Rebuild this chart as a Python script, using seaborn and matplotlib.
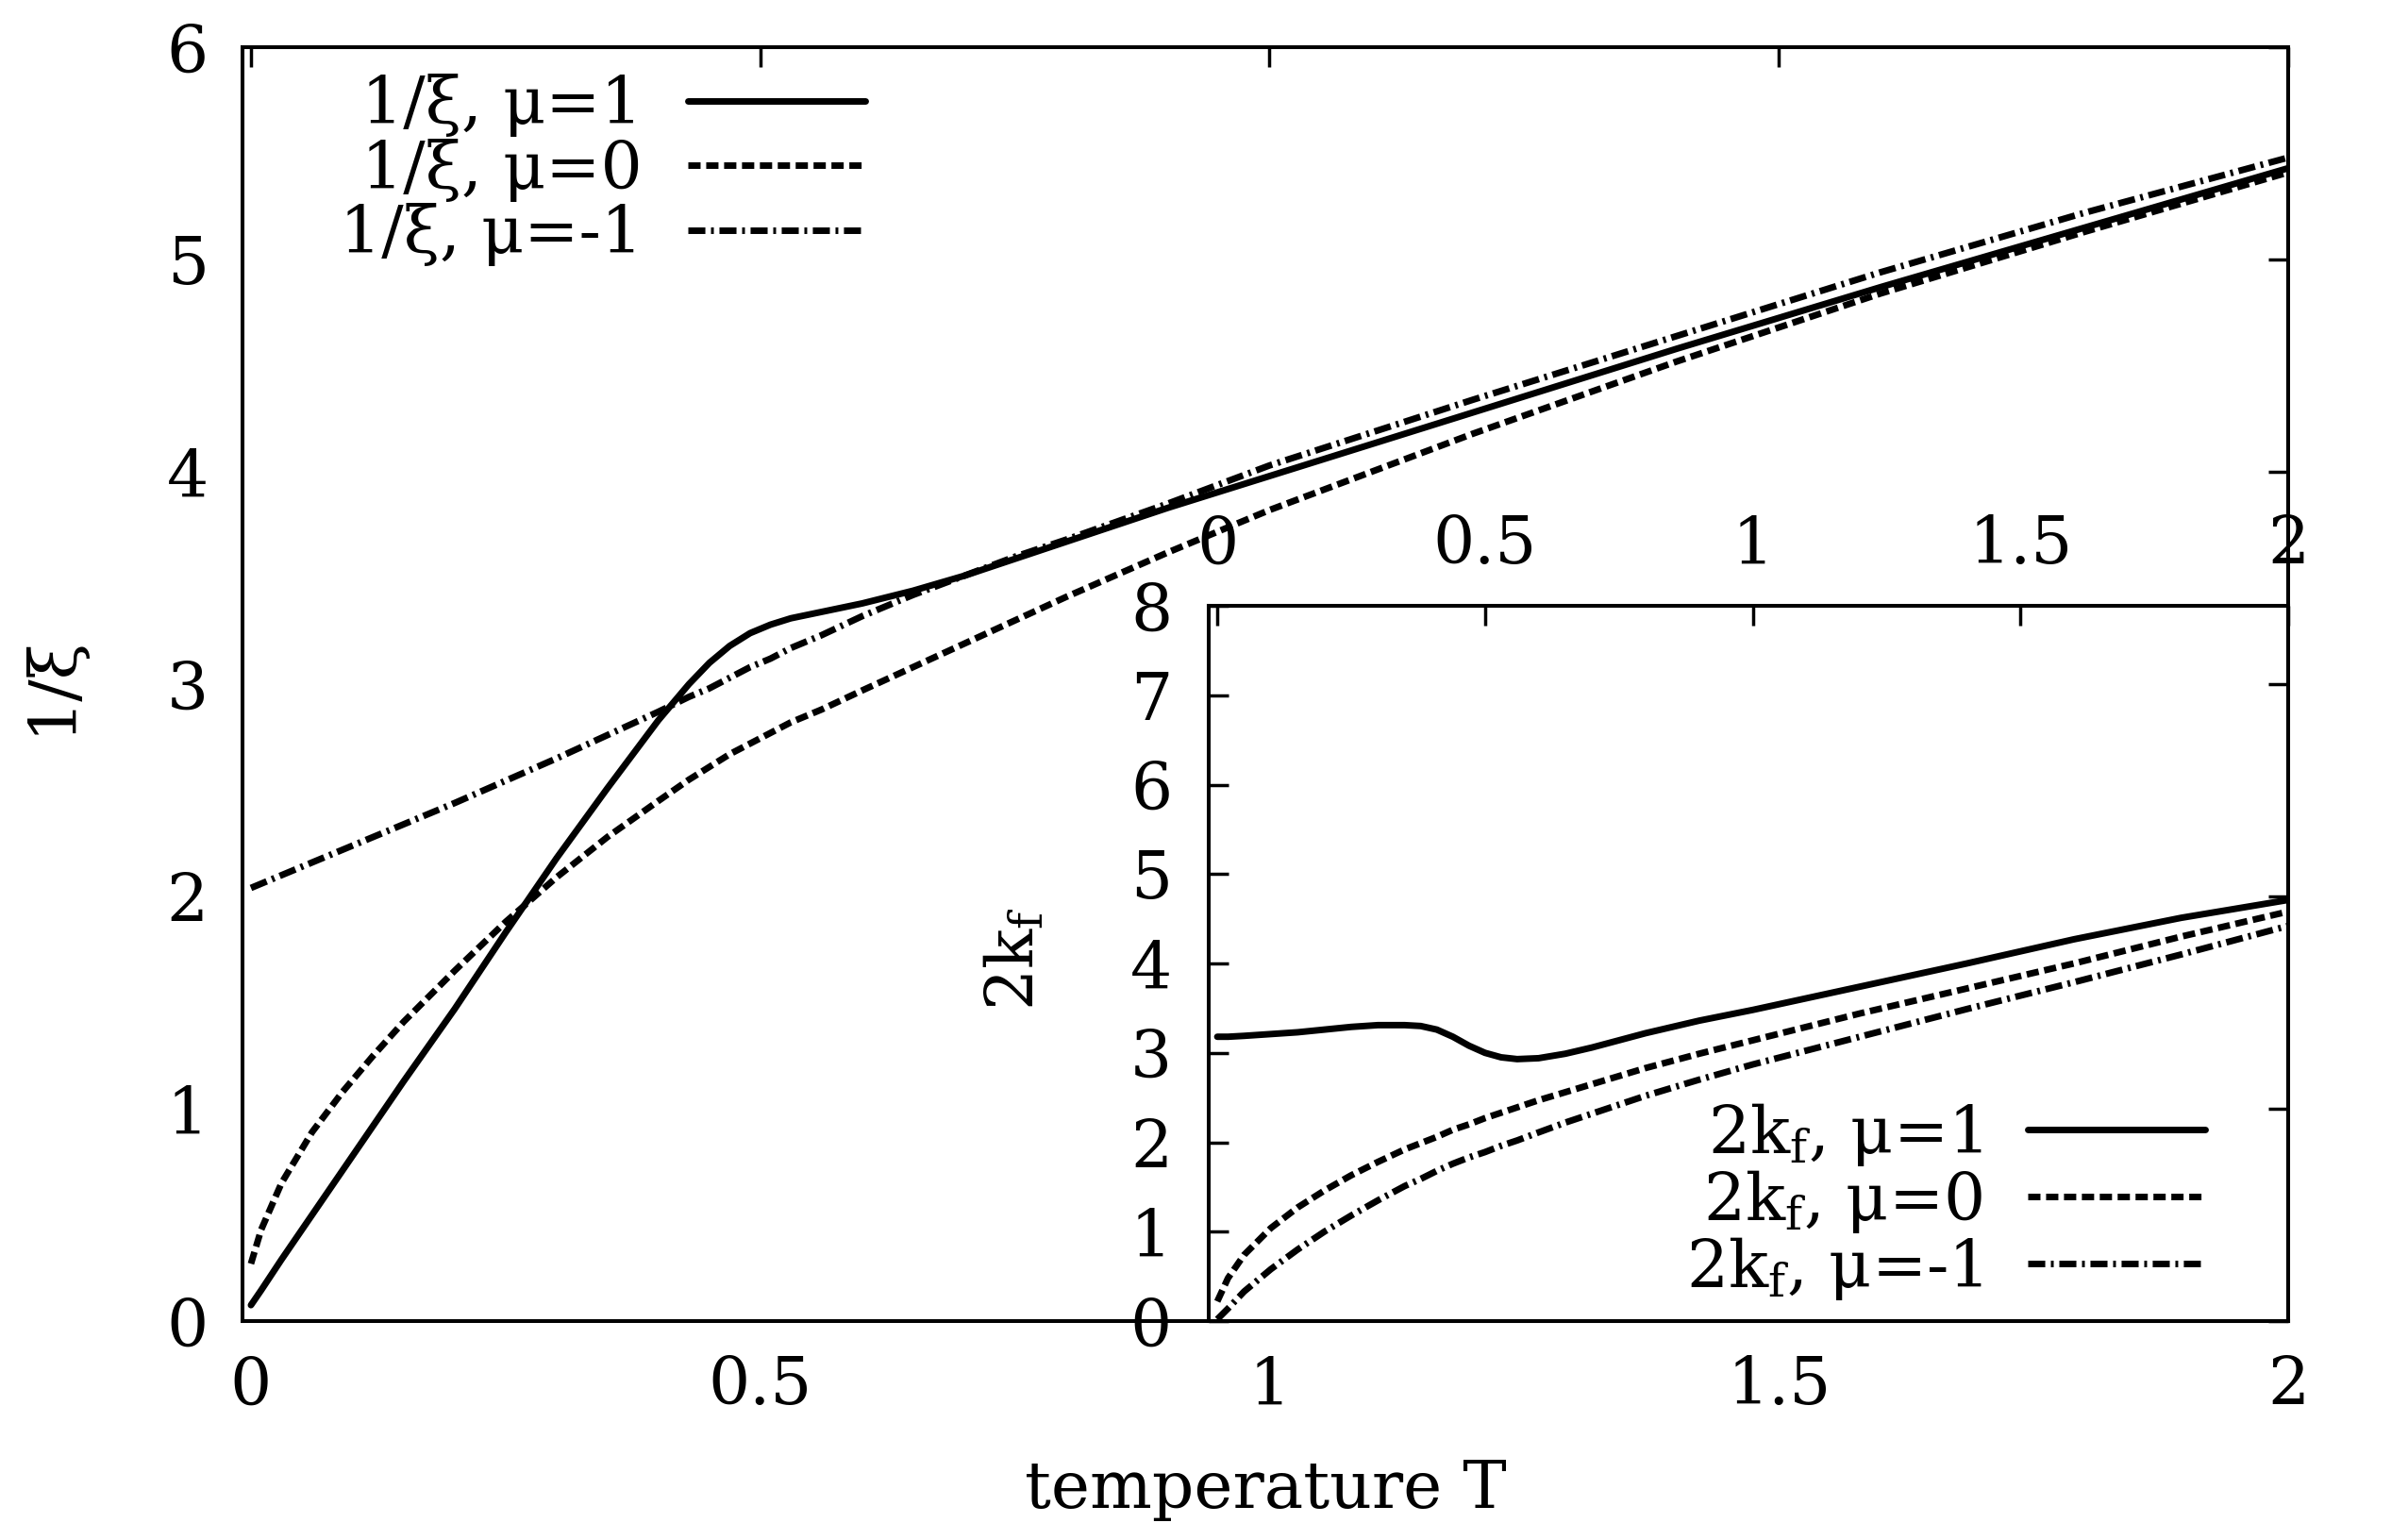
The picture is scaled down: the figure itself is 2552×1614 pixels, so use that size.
import numpy as np
import pandas as pd
import matplotlib
matplotlib.use("Agg")
import matplotlib.pyplot as plt
import seaborn as sns

# main panel: 1/xi vs temperature
T_main = [0, 0.01, 0.03, 0.06, 0.09, 0.12, 0.15, 0.2, 0.25, 0.3, 0.35, 0.4, 0.43, 0.45,
          0.47, 0.49, 0.51, 0.53, 0.56, 0.6, 0.65, 0.7, 0.75, 0.8, 0.9, 1.0,
          1.2, 1.4, 1.6, 1.8, 2.0]
xi_mu1 = [0.075, 0.145, 0.29, 0.50, 0.71, 0.92, 1.13, 1.47, 1.83, 2.18, 2.51, 2.83, 3.00, 3.10,
          3.18, 3.24, 3.28, 3.31, 3.34, 3.38, 3.44, 3.51, 3.59, 3.67, 3.83, 3.98,
          4.28, 4.58, 4.87, 5.15, 5.43]
xi_mu0 = [0.27, 0.43, 0.65, 0.89, 1.08, 1.25, 1.41, 1.65, 1.88, 2.09, 2.28, 2.45, 2.55, 2.61,
          2.67, 2.72, 2.77, 2.82, 2.88, 2.97, 3.08, 3.19, 3.30, 3.41, 3.62, 3.82,
          4.18, 4.52, 4.84, 5.13, 5.41]
xi_mum1 = [2.04, 2.06, 2.10, 2.16, 2.22, 2.28, 2.34, 2.44, 2.545, 2.65, 2.76, 2.87, 2.94, 2.98,
           3.03, 3.08, 3.12, 3.17, 3.23, 3.32, 3.42, 3.51, 3.60, 3.68, 3.85, 4.03,
           4.34, 4.64, 4.94, 5.22, 5.48]

# inset: 2k_f vs temperature
T_in = [0, 0.02, 0.05, 0.1, 0.15, 0.2, 0.25, 0.3, 0.35, 0.38, 0.41, 0.44, 0.47, 0.5,
        0.53, 0.56, 0.6, 0.65, 0.7, 0.8, 0.9, 1.0, 1.2, 1.4, 1.6, 1.8, 2.0]
kf_mu1 = [3.18, 3.18, 3.19, 3.21, 3.23, 3.26, 3.29, 3.31, 3.31, 3.30, 3.26, 3.18, 3.08, 3.00,
          2.95, 2.93, 2.94, 2.99, 3.06, 3.22, 3.36, 3.48, 3.74, 4.00, 4.27, 4.51, 4.71]
kf_mu0 = [0.22, 0.48, 0.74, 1.04, 1.27, 1.46, 1.63, 1.78, 1.92, 1.99, 2.06, 2.14, 2.20, 2.27,
          2.33, 2.39, 2.47, 2.56, 2.65, 2.83, 2.99, 3.14, 3.44, 3.72, 4.00, 4.30, 4.58]
kf_mum1 = [0.02, 0.14, 0.33, 0.58, 0.80, 1.00, 1.18, 1.35, 1.51, 1.59, 1.68, 1.76, 1.83, 1.89,
           1.96, 2.02, 2.11, 2.22, 2.32, 2.52, 2.70, 2.87, 3.18, 3.49, 3.79, 4.10, 4.42]

mu_labels = ["1", "0", "-1"]
line_styles = ["-", (0, (1.87, 0.86)), (0, (2.6, 0.86, 0.43, 0.86))]

sns.set_style("white")
plt.rcParams["font.family"] = ["DejaVu Serif"]
plt.rcParams["mathtext.fontset"] = "dejavuserif"
plt.rcParams["text.color"] = "black"
plt.rcParams["axes.labelcolor"] = "black"
FS = 50
LW = 5

fig = plt.figure(figsize=(25.52, 16.14), dpi=100)
ax = fig.add_axes([257 / 2552, 1 - 1400 / 1614, 2168 / 2552, 1350 / 1614])
ax_in = fig.add_axes([1281 / 2552, 1 - 1400 / 1614, 1144 / 2552, 758 / 1614])
ax_in.set_facecolor("none")

main_df = pd.DataFrame({"T": T_main, "1": xi_mu1, "0": xi_mu0, "-1": xi_mum1})
in_df = pd.DataFrame({"T": T_in, "1": kf_mu1, "0": kf_mu0, "-1": kf_mum1})

for mu, ls in zip(mu_labels, line_styles):
    sns.lineplot(data=main_df, x="T", y=mu, ax=ax, color="black", lw=LW,
                 linestyle=ls, label="1/ξ, μ=" + mu, sort=False)
    sns.lineplot(data=in_df, x="T", y=mu, ax=ax_in, color="black", lw=LW,
                 linestyle=ls, label=r"2k$_\mathrm{f}$, μ=" + mu, sort=False)

# main axes
ax.set_xlim(-0.0083, 2)
ax.set_ylim(0, 6)
ax.set_xticks([0, 0.5, 1, 1.5, 2])
ax.set_xticklabels(["0", "0.5", "1", "1.5", "2"])
ax.set_yticks(range(7))
ax.tick_params(direction="in", top=True, right=True, length=15, width=2.5,
               labelsize=FS, colors="black")
ax.tick_params(axis="x", pad=26)
ax.tick_params(axis="y", pad=26)
ax.set_xlabel("temperature T", fontsize=FS)
ax.set_ylabel("1/ξ", fontsize=FS)
ax.xaxis.set_label_coords(0.5, -0.108)
ax.yaxis.set_label_coords(-0.078, 0.5)
for sp in ax.spines.values():
    sp.set_linewidth(2.9)
    sp.set_color("black")

leg = ax.legend(loc="upper right", bbox_to_anchor=(0.3044, 0.979), frameon=False,
                markerfirst=False, fontsize=FS, handlelength=2.7, handletextpad=0.7,
                labelspacing=0.02, borderpad=0, borderaxespad=0)

# inset axes
ax_in.set_xlim(-0.016, 2)
ax_in.set_ylim(0, 8)
ax_in.set_xticks([0, 0.5, 1, 1.5, 2])
ax_in.set_xticklabels(["0", "0.5", "1", "1.5", "2"])
ax_in.set_yticks(range(9))
ax_in.tick_params(direction="in", length=15, width=2.5, labelsize=FS, colors="black")
ax_in.tick_params(axis="x", top=True, bottom=False, labeltop=True, labelbottom=False, pad=22)
ax_in.tick_params(axis="y", left=True, right=False, pad=28)
ax_in.set_xlabel("")
ax_in.set_ylabel(r"2k$_\mathrm{f}$", fontsize=FS)
ax_in.yaxis.set_label_coords(-0.15, 0.507)
for sp in ax_in.spines.values():
    sp.set_linewidth(2.9)
    sp.set_color("black")

leg_in = ax_in.legend(loc="upper right", bbox_to_anchor=(0.923, 0.308), frameon=False,
                      markerfirst=False, fontsize=FS, handlelength=2.7, handletextpad=0.7,
                      labelspacing=0.0, borderpad=0, borderaxespad=0)

fig.savefig("out.png", dpi=100)
